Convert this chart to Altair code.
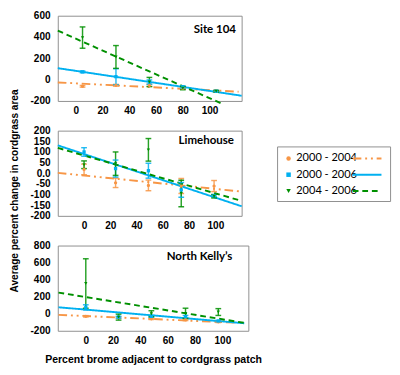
import altair as alt
import pandas as pd

series = ["2000 - 2004", "2000 - 2006", "2004 - 2006"]
line_colors = ["#F79646", "#00B0F0", "#009000"]
err_colors = ["#FAC08F", "#8DDCF7", "#93D493"]
mark_colors = ["#F79646", "#1F3864", "#005C00"]
legend_mark_colors = ["#F79646", "#00B0F0", "#006400"]
plot_shapes = ["circle", "square", "triangle-down"]
legend_shapes = ["circle", "circle", "triangle-down"]
dashes = [[9, 4, 2, 4, 2, 4], [1, 0], [6, 4]]

panel_names = ["Site 104", "Limehouse", "North Kelly\u2019s"]

# Panel 1: Site 104
p1_x = [5, 30, 55, 80, 105]
p1_mean = {"2000 - 2004": [-62, -53, -53, -80, -109],
           "2000 - 2006": [73, 28, -23, -68, -109],
           "2004 - 2006": [395, 213, -22, -80, -109]}
p1_err = {"2000 - 2004": [8, 8, 10, 8, 6],
          "2000 - 2006": [8, 75, 20, 10, 8],
          "2004 - 2006": [100, 107, 43, 15, 8]}
p1_trend_x = {"2000 - 2004": [-13.5, 121.7], "2000 - 2006": [-13.5, 124], "2004 - 2006": [-13.5, 110.8]}
p1_trend_y = {"2000 - 2004": [-26, -113], "2000 - 2006": [108, -151], "2004 - 2006": [460, -234]}

# Panel 2: Limehouse
p2_x = [0, 24, 49, 74, 99]
p2_mean = {"2000 - 2004": [18, -45, -57, -60, -60],
           "2000 - 2006": [100, 22, 12, -78, -105],
           "2004 - 2006": [40, 45, 110, -95, -108]}
p2_err = {"2000 - 2004": [25, 22, 25, 35, 26],
          "2000 - 2006": [20, 40, 35, 35, 5],
          "2004 - 2006": [18, 55, 53, 62, 8]}
p2_trend_x = {"2000 - 2004": [-20, 120], "2000 - 2006": [-20, 120], "2004 - 2006": [-20, 120]}
p2_trend_y = {"2000 - 2004": [2, -86], "2000 - 2006": [131, -155], "2004 - 2006": [119, -130]}

# Panel 3: North Kelly's
p3_x = [0, 24, 48, 73, 97]
p3_mean = {"2000 - 2004": [-30, -45, -60, -70, -95],
           "2000 - 2006": [75, -40, -30, -35, -85],
           "2004 - 2006": [355, -40, 0, 5, 20]}
p3_err = {"2000 - 2004": [8, 10, 8, 10, 8],
          "2000 - 2006": [30, 10, 10, 15, 8],
          "2004 - 2006": [290, 35, 35, 60, 40]}
p3_trend_x = {"2000 - 2004": [-20, 110], "2000 - 2006": [-20, 116], "2004 - 2006": [-20, 118]}
p3_trend_y = {"2000 - 2004": [-13, -105], "2000 - 2006": [76, -112], "2004 - 2006": [248, -112]}

x_ticks = [0, 20, 40, 60, 80, 100]
y_title = "Average percent change in cordgrass area"
x_title = "Percent brome adjacent to cordgrass patch"

LABEL_FONT = "Liberation Sans"
TEXT_FONT = "Lato"
PANEL_H = 89


def panel(name, xs, means, errs, tx, ty, xdom, ydom, yticks, width, tpos, show_xtitle, zero_label=None):
    rows = []
    for s in series:
        for xv, m, e in zip(xs, means[s], errs[s]):
            rows.append({"series": s, "x": xv, "mean": m, "lo": m - e, "hi": m + e})
    df = pd.DataFrame(rows)
    trows = []
    for s in series:
        for xv, yv in zip(tx[s], ty[s]):
            trows.append({"series": s, "x": xv, "y": yv})
    tdf = pd.DataFrame(trows)

    if zero_label:
        lexpr = "datum.value == 0 ? '%s' : (datum.value < 0 ? '-' + abs(datum.value) : '' + datum.value)" % zero_label
    else:
        lexpr = "datum.value < 0 ? '-' + abs(datum.value) : '' + datum.value"

    xaxis = alt.Axis(values=x_ticks, title=x_title if show_xtitle else None, labelPadding=5,
                     titlePadding=9, labelExpr="'' + datum.value")
    xenc = alt.X("x:Q", scale=alt.Scale(domain=xdom, nice=False, zero=False), axis=xaxis)
    yaxis = alt.Axis(values=yticks, title=None, labelPadding=8, labelExpr=lexpr)
    yscale = alt.Scale(domain=ydom, nice=False, zero=False)

    color_line = alt.Color("series:N", scale=alt.Scale(domain=series, range=line_colors), legend=None)
    color_err = alt.Color("series:N", scale=alt.Scale(domain=series, range=err_colors), legend=None)
    color_mark = alt.Color("series:N", scale=alt.Scale(domain=series, range=mark_colors), legend=None)

    trend = alt.Chart(tdf).mark_line(strokeWidth=2).encode(
        x=xenc,
        y=alt.Y("y:Q", scale=yscale, axis=yaxis),
        color=color_line,
        strokeDash=alt.StrokeDash("series:N", scale=alt.Scale(domain=series, range=dashes), legend=None),
        detail="series:N",
    )
    base = alt.Chart(df)
    rule = base.mark_rule(strokeWidth=1.5, opacity=0.85).encode(
        x=xenc, y=alt.Y("lo:Q", scale=yscale, axis=yaxis), y2="hi:Q", color=color_err)
    tick_hi = base.mark_tick(orient="horizontal", size=6, thickness=1.5, opacity=0.85).encode(
        x=xenc, y=alt.Y("hi:Q", scale=yscale, axis=yaxis), color=color_err)
    tick_lo = base.mark_tick(orient="horizontal", size=6, thickness=1.5, opacity=0.85).encode(
        x=xenc, y=alt.Y("lo:Q", scale=yscale, axis=yaxis), color=color_err)
    pts = base.mark_point(filled=True, size=12, opacity=1).encode(
        x=xenc, y=alt.Y("mean:Q", scale=yscale, axis=yaxis), color=color_mark,
        shape=alt.Shape("series:N", scale=alt.Scale(domain=series, range=plot_shapes), legend=None))
    title = alt.Chart(pd.DataFrame({"t": [name]})).mark_text(
        font=TEXT_FONT, fontWeight="bold", fontSize=12, color="black", baseline="middle", align="center"
    ).encode(text="t:N", x=alt.value(tpos[0]), y=alt.value(tpos[1]))

    return alt.layer(trend, rule, tick_hi, tick_lo, pts, title).properties(width=width, height=PANEL_H)


p1 = panel(panel_names[0], p1_x, p1_mean, p1_err, p1_trend_x, p1_trend_y,
           [-13.5, 124], [-200, 600], [-200, 0, 200, 400, 600], 192, (164, 14), False)
p2 = panel(panel_names[1], p2_x, p2_mean, p2_err, p2_trend_x, p2_trend_y,
           [-20, 120], [-200, 200], [-200, -150, -100, -50, 0, 50, 100, 150, 200], 192, (155, 10), False,
           zero_label="0.0")
p3 = panel(panel_names[2], p3_x, p3_mean, p3_err, p3_trend_x, p3_trend_y,
           [-20.5, 119], [-200, 800], [-200, 0, 200, 400, 600, 800], 199, (148, 11), True)

panels = alt.vconcat(p1, p2, p3, spacing=9).resolve_scale(x="independent", y="independent")

ytitle_chart = alt.Chart(pd.DataFrame({"t": [y_title]})).mark_text(
    angle=270, font=LABEL_FONT, fontWeight="bold", fontSize=10.5, color="black", baseline="middle", align="center"
).encode(text="t:N", x=alt.value(6), y=alt.value(183)).properties(
    width=12, height=10, view=alt.ViewBackground(stroke="transparent"))

LEG_W = 119
ldf = pd.DataFrame({"series": series})
ly = alt.Y("series:N", scale=alt.Scale(type="point", domain=series, range=[149, 183], padding=0), axis=None)
box = alt.Chart(pd.DataFrame({"a": [0]})).mark_rect(fill="white", stroke="#8C8C8C", strokeWidth=1).encode(
    x=alt.value(0.5), x2=alt.value(LEG_W - 0.5), y=alt.value(137), y2=alt.value(194))
lpts = alt.Chart(ldf).mark_point(filled=True, size=22, opacity=1).encode(
    x=alt.value(12), y=ly,
    color=alt.Color("series:N", scale=alt.Scale(domain=series, range=legend_mark_colors), legend=None),
    shape=alt.Shape("series:N", scale=alt.Scale(domain=series, range=legend_shapes), legend=None))
ltxt = alt.Chart(ldf).mark_text(font=TEXT_FONT, fontSize=11.5, color="black", align="left", baseline="middle").encode(
    x=alt.value(20), y=ly, text="series:N")
lrule = alt.Chart(ldf).mark_rule(strokeWidth=2).encode(
    x=alt.value(79), x2=alt.value(109), y=ly,
    color=alt.Color("series:N", scale=alt.Scale(domain=series, range=line_colors), legend=None),
    strokeDash=alt.StrokeDash("series:N", scale=alt.Scale(domain=series, range=dashes), legend=None))
legend_chart = alt.layer(box, lpts, ltxt, lrule).properties(
    width=LEG_W, height=200, view=alt.ViewBackground(stroke="transparent"))

left = alt.hconcat(ytitle_chart, panels, spacing=8)
chart = alt.hconcat(left, legend_chart, spacing=14).properties(
    padding={"left": 0, "top": -6, "right": 0, "bottom": 0}
).configure_view(stroke="#8C8C8C", strokeWidth=1).configure_axis(
    grid=False, ticks=False, domain=False,
    labelFont=LABEL_FONT, labelFontWeight="bold", labelFontSize=10.5, labelColor="black",
    titleFont=LABEL_FONT, titleFontWeight="bold", titleFontSize=11, titleColor="black"
)

chart.save("out.html", embed_options={"renderer": "svg", "actions": False})
